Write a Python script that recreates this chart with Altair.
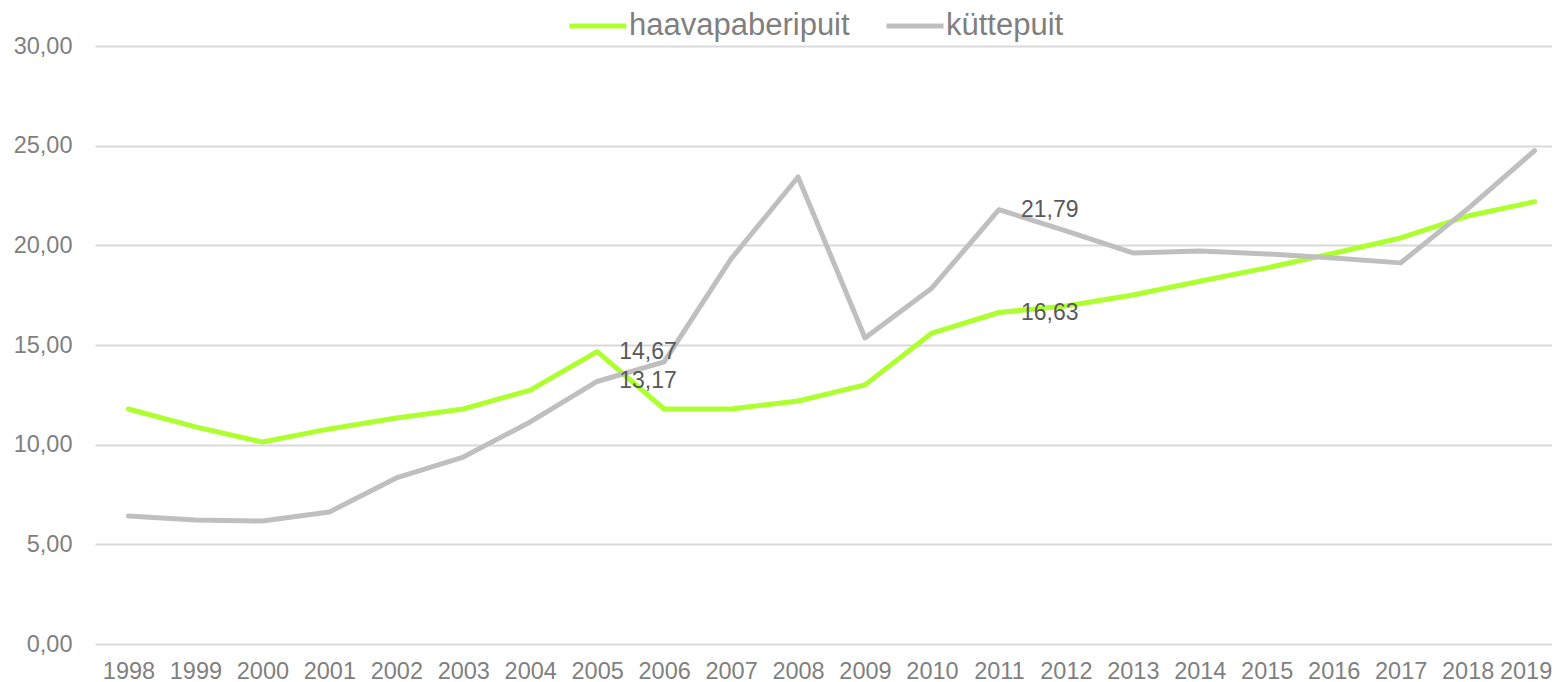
import altair as alt
import pandas as pd

years = list(range(1998, 2020))
haavapaberipuit = [11.79, 10.89, 10.13, 10.79, 11.34, 11.79, 12.74, 14.67, 11.79, 11.79, 12.19,
                   13.00, 15.60, 16.63, 16.96, 17.51, 18.20, 18.87, 19.60, 20.37, 21.47, 22.19]
kuttepuit = [6.42, 6.22, 6.17, 6.62, 8.33, 9.38, 11.14, 13.17, 14.15, 19.32, 23.43,
             15.35, 17.86, 21.79, 20.72, 19.62, 19.72, 19.57, 19.37, 19.12, 21.83, 24.75]
series_names = ["haavapaberipuit", "küttepuit"]
series_colors = ["#ADFF2F", "#BFBFBF"]

label_years = [2005, 2005, 2011, 2011]
label_values = [14.67, 13.17, 21.79, 16.63]

rows = []
for y, v in zip(years, haavapaberipuit):
    rows.append({"year": y, "value": v, "series": series_names[0]})
for y, v in zip(years, kuttepuit):
    rows.append({"year": y, "value": v, "series": series_names[1]})
df = pd.DataFrame(rows)

lab = pd.DataFrame({"year": label_years, "value": label_values,
                    "text": [f"{v:.2f}".replace(".", ",") for v in label_values]})

x_scale = alt.Scale(domain=[1997.5, 2019.26], nice=False, zero=False)
y_scale = alt.Scale(domain=[0, 30], nice=False)

lines = alt.Chart(df).mark_line(strokeWidth=5, strokeCap="round", strokeJoin="round").encode(
    x=alt.X("year:Q", scale=x_scale,
            axis=alt.Axis(values=years, format="d", title=None, grid=False, domain=False,
                          ticks=False, labelFontSize=23.5, labelColor="#7F7F7F",
                          labelPadding=15, labelFont="Liberation Sans",
                          labelOffset={"expr": "datum.value == 2019 ? -9 : 0"})),
    y=alt.Y("value:Q", scale=y_scale,
            axis=alt.Axis(values=[0, 5, 10, 15, 20, 25, 30], title=None, domain=False, ticks=False,
                          gridColor="#D9D9D9", gridWidth=2, labelFontSize=23.5,
                          labelColor="#7F7F7F", labelPadding=23, labelFont="Liberation Sans",
                          labelExpr="replace(format(datum.value, '.2f'), '.', ',')")),
    color=alt.Color("series:N", sort=series_names,
                    scale=alt.Scale(domain=series_names, range=series_colors),
                    legend=alt.Legend(title=None, orient="none", direction="horizontal",
                                      legendX=472, legendY=-51, symbolType="stroke",
                                      symbolSize=3249, symbolStrokeWidth=5,
                                      labelFontSize=31, labelColor="#7F7F7F",
                                      labelFont="Liberation Sans", labelOffset=0,
                                      columnPadding=26, labelLimit=400)),
)

texts = alt.Chart(lab).mark_text(align="left", baseline="middle", dx=22, fontSize=23,
                                 color="#595959", font="Liberation Sans").encode(
    x=alt.X("year:Q", scale=x_scale),
    y=alt.Y("value:Q", scale=y_scale),
    text="text:N",
)

chart = (lines + texts).properties(
    width=1457, height=598,
    autosize=alt.AutoSizeParams(type="none"),
    padding={"left": 87, "top": 38, "right": 0, "bottom": 40},
).configure(background="white").configure_view(stroke=None)

chart.save("out.html", embed_options={"renderer": "svg", "actions": False})
